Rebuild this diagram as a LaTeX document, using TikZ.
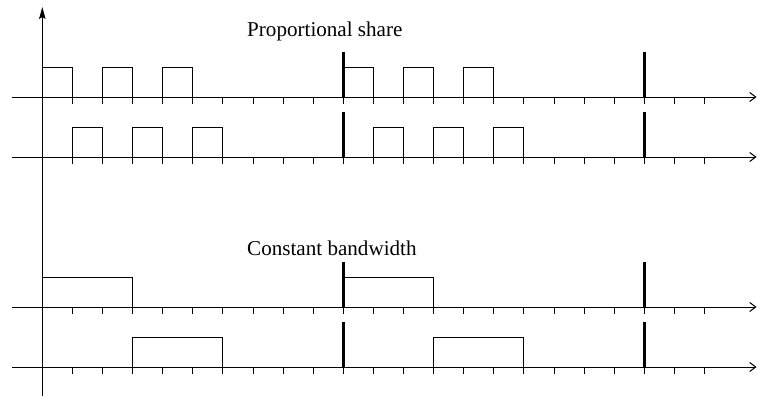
\documentclass[tikz,border=0pt]{standalone}
\usepackage{fontspec}
\setmainfont{Liberation Serif}
\usetikzlibrary{arrows.meta}
\begin{document}
\begin{tikzpicture}[x=1pt,y=-1pt,
  timeaxis/.style={line width=1pt, -{Straight Barb[length=6pt,width=9pt,line width=1pt]}},
  valaxis/.style={line width=1pt, -{Stealth[length=12pt,width=6.5pt,inset=2pt]}},
  tickmark/.style={line width=1pt},
  deadline/.style={line width=2.6pt},
  pulse/.style={line width=1pt, line join=miter},
  caption/.style={font=\fontsize{21.1}{24}\selectfont, inner sep=0pt, anchor=base west}
]
\useasboundingbox (0,0) rectangle (757,396);
\def\xo{42.3}
\def\sx{30.1}
% time lines with ticks and period boundaries
\foreach \y/\nm in {97/a,157/b,307/c,367/d}{
  \coordinate (\nm0) at (12,\y);
  \coordinate (\nm1) at (756.5,\y);
  \draw[timeaxis] (\nm0) -- (\nm1);
  \foreach \i in {1,...,22}
    \draw[tickmark] (\xo+\i*\sx,\y) -- ++(0,7);
  \foreach \i in {10,20}
    \draw[deadline] (\xo+\i*\sx,\y) -- ++(0,-45);
}
% proportional share: short slots
\foreach \i in {0,2,4,10,12,14}
  \draw[pulse] (\xo+\i*\sx,97) |- (\xo+\i*\sx+\sx,67) -- (\xo+\i*\sx+\sx,97);
\foreach \i in {1,3,5,11,13,15}
  \draw[pulse] (\xo+\i*\sx,157) |- (\xo+\i*\sx+\sx,127) -- (\xo+\i*\sx+\sx,157);
% constant bandwidth: long slots
\foreach \i in {0,10}
  \draw[pulse] (\xo+\i*\sx,307) |- (\xo+\i*\sx+3*\sx,277) -- (\xo+\i*\sx+3*\sx,307);
\foreach \i in {3,13}
  \draw[pulse] (\xo+\i*\sx,367) |- (\xo+\i*\sx+3*\sx,337) -- (\xo+\i*\sx+3*\sx,367);
% vertical axis
\coordinate (vbot) at (\xo,396);
\coordinate (vtop) at (\xo,7);
\draw[valaxis] (vbot) -- (vtop);
% captions
\node[caption] (ps) at (247,36.5) {Proportional share};
\node[caption] (cb) at (247,255) {Constant bandwidth};
\end{tikzpicture}
\end{document}
